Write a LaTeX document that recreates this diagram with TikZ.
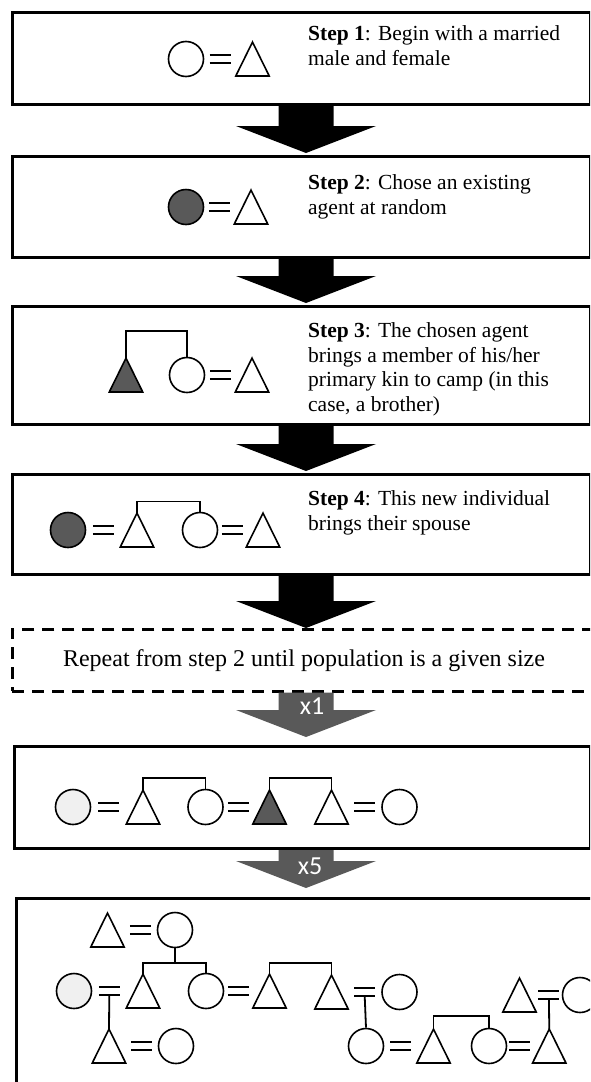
\documentclass[tikz,border=0pt]{standalone}
\usepackage{fontspec}
\setmainfont{Liberation Serif}
\newfontfamily\labelfont{Carlito}
\usetikzlibrary{calc}
\definecolor{agent}{HTML}{595959}
\definecolor{pale}{HTML}{F0F0F0}
\definecolor{arrowgray}{HTML}{595959}
\newcommand\Male[4][white]{\node[mbox] (#2) at (#3,#4) {};\filldraw[shapeline,fill=#1] (#2.south west) -- (#2.south east) -- (#2.north) -- cycle;}
\newcommand\Fem[4][white]{\node[fem,fill=#1] (#2) at (#3,#4) {};}
\newcommand\Marry[2]{\draw[eqline] ($(#1.east)!.5!(#2.west)+(-10.5,-4)$) -- ++(21,0) ($(#1.east)!.5!(#2.west)+(-10.5,4)$) -- ++(21,0);}
\newcommand\Descent[3]{\draw[kin] ($(#1.east)!.5!(#2.west)+(0,4)$) -- (#3.north);}
\newcommand\Sibs[3]{\draw[kin] (#1.north) -- ++(0,-#3) -| (#2.north);}
\newcommand\BlockArrow[4]{\fill[#3] let \p1=(#1.south), \p2=(#2.north) in
  (306pt-27.5pt,\y1) -- (306pt+27.5pt,\y1) -- (306pt+27.5pt,\y2+#4pt+27pt) -- (306pt+70pt,\y2+#4pt+27pt)
  -- (306pt,\y2+#4pt) -- (306pt-70pt,\y2+#4pt+27pt) -- (306pt-27.5pt,\y2+#4pt+27pt) -- cycle;}
\begin{document}
\begin{tikzpicture}[x=1pt,y=-1pt,
  stepbox/.style={draw=black,line width=3pt,anchor=north west,inner sep=0pt,fill=white},
  dashbox/.style={draw=black,line width=2.5pt,dash pattern=on 12pt off 8pt,anchor=north west,inner sep=0pt},
  steptext/.style={anchor=north west,inner sep=0pt,align=left,font=\fontsize{21.5}{24.5}\selectfont},
  mbox/.style={rectangle,inner sep=0pt,minimum width=33pt,minimum height=33.5pt},
  fem/.style={circle,draw=black,line width=1.6pt,inner sep=0pt,minimum size=35pt},
  shapeline/.style={draw=black,line width=1.6pt,line join=miter},
  eqline/.style={draw=black,line width=2pt},
  kin/.style={draw=black,line width=1.8pt},
  xlabel/.style={text=white,font=\labelfont\fontsize{26}{26}\selectfont,inner sep=0pt}]
\path[use as bounding box] (0,0) rectangle (590,1082);
\clip (0,0) rectangle (590,1082);
\fill[white] (0,0) rectangle (590,1082);
% boxes
\node[stepbox,minimum width=578pt,minimum height=92.5pt] (b1) at (11,10.5) {};
\node[stepbox,minimum width=578pt,minimum height=101pt] (b2) at (11,155) {};
\node[stepbox,minimum width=578pt,minimum height=118pt] (b3) at (11,305) {};
\node[stepbox,minimum width=578pt,minimum height=100pt] (b4) at (11,473) {};
\node[dashbox,minimum width=600pt,minimum height=62pt] (rb) at (11,628) {};
\node[stepbox,minimum width=576pt,minimum height=102pt] (b5) at (13,745) {};
\node[stepbox,minimum width=600pt,minimum height=250pt] (b6) at (15,897) {};
% arrows
\BlockArrow{b1}{b2}{black}{2}
\BlockArrow{b2}{b3}{black}{2}
\BlockArrow{b3}{b4}{black}{2}
\BlockArrow{b4}{rb}{black}{0}
\BlockArrow{rb}{b5}{arrowgray}{8}
\BlockArrow{b5}{b6}{arrowgray}{9}
\node[xlabel] (x1) at (312,706) {x1};
\node[xlabel] (x5) at (310,866) {x5};
% texts
\node[steptext] (t1) at (308,25.5) {\textbf{Step 1}: Begin with a married\\male and female};
\node[steptext] (t2) at (308,174.5) {\textbf{Step 2}: Chose an existing\\agent at random};
\node[steptext] (t3) at (308,322.5) {\textbf{Step 3}: The chosen agent\\brings a member of his/her\\primary kin to camp (in this\\case, a brother)};
\node[steptext] (t4) at (308,490.5) {\textbf{Step 4}: This new individual\\brings their spouse};
\node[font=\fontsize{24}{26}\selectfont,inner sep=0pt] (rt) at (304,661) {Repeat from step 2 until population is a given size};
% step 1
\Fem{p1}{186}{59} \Male{p2}{252.5}{59} \Marry{p1}{p2}
% step 2
\Fem[agent]{a1}{186}{207} \Male{a2}{251}{207} \Marry{a1}{a2}
% step 3
\Male[agent]{c1}{126}{375} \Fem{c2}{187}{375} \Male{c3}{252}{375}
\Marry{c2}{c3} \Sibs{c1}{c2}{27}
% step 4
\Fem[agent]{d1}{68}{530} \Male{d2}{137}{530} \Marry{d1}{d2}
\Fem{d3}{200}{530} \Male{d4}{263}{530} \Marry{d3}{d4}
\Sibs{d2}{d3}{11.5}
% x1
\Fem[pale]{f1}{73}{807} \Male{f2}{143}{807} \Marry{f1}{f2}
\Fem{f3}{205.5}{807} \Male[agent]{f4}{269.5}{807} \Marry{f3}{f4}
\Male{f5}{331.5}{807} \Fem{f6}{399.5}{807} \Marry{f5}{f6}
\Sibs{f2}{f3}{12} \Sibs{f4}{f5}{12}
% x5
\Male{g1}{107.5}{930} \Fem{g2}{175}{930} \Marry{g1}{g2}
\draw[kin] (g2.south) -- ++(0,15.5);
\Fem[pale]{r2a}{74}{991} \Male{r2b}{143}{991} \Marry{r2a}{r2b}
\Fem{r2c}{206}{991} \Male{r2d}{269.5}{991} \Marry{r2c}{r2d}
\Male{r2e}{331.5}{992} \Fem{r2f}{399.5}{992} \Marry{r2e}{r2f}
\Sibs{r2b}{r2c}{11.25} \Sibs{r2d}{r2e}{11.25}
\Male{r2g}{519.5}{995} \Fem{r2h}{580}{995} \Marry{r2g}{r2h}
\Male{r3a}{109}{1046} \Fem{r3b}{176}{1046} \Marry{r3a}{r3b}
\Fem{r3c}{366}{1046} \Male{r3d}{433.5}{1046} \Marry{r3c}{r3d}
\Fem{r3e}{489}{1046} \Male{r3f}{549.25}{1046} \Marry{r3e}{r3f}
\Sibs{r3d}{r3e}{13.25}
\Descent{r2a}{r2b}{r3a} \Descent{r2e}{r2f}{r3c} \Descent{r2g}{r2h}{r3f}
\end{tikzpicture}
\end{document}
